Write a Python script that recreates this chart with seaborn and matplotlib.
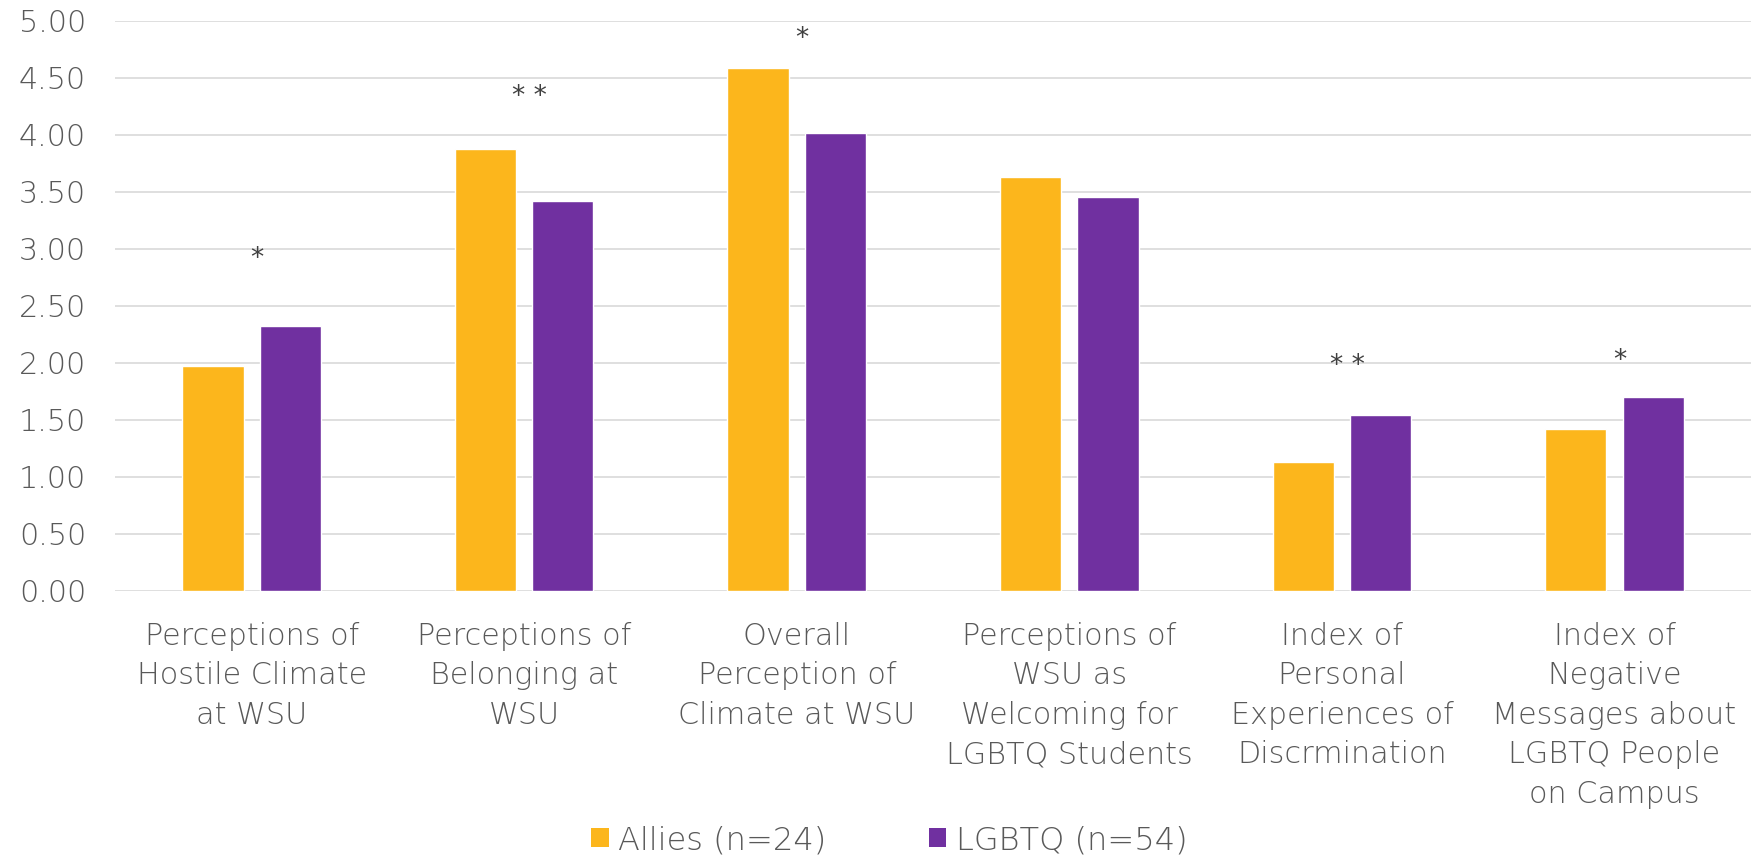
import numpy as np
import pandas as pd
import matplotlib
matplotlib.use("Agg")
import matplotlib.pyplot as plt
import matplotlib.transforms as mtransforms
import seaborn as sns
from matplotlib.patches import Patch

# data
categories = [
    "Perceptions of\nHostile Climate\nat WSU",
    "Perceptions of\nBelonging at\nWSU",
    "Overall\nPerception of\nClimate at WSU",
    "Perceptions of\nWSU as\nWelcoming for\nLGBTQ Students",
    "Index of\nPersonal\nExperiences of\nDiscrmination",
    "Index of\nNegative\nMessages about\nLGBTQ People\non Campus",
]
allies = [1.97, 3.88, 4.59, 3.63, 1.13, 1.42]
lgbtq = [2.32, 3.42, 4.02, 3.46, 1.54, 1.70]
groups = ["Allies (n=24)", "LGBTQ (n=54)"]
# significance markers and where they sit on the value axis
sig_marks = ["*", "**", "*", "", "**", "*"]
sig_y = [2.95, 4.37, 4.88, 0, 2.01, 2.05]
yticks = [0, 0.5, 1, 1.5, 2, 2.5, 3, 3.5, 4, 4.5, 5]

colors = ["#FCB61C", "#7030A0"]
text_col = "#595959"

df = pd.DataFrame({
    "category": categories * 2,
    "group": [groups[0]] * len(categories) + [groups[1]] * len(categories),
    "value": allies + lgbtq,
})

sns.set_style("white")
plt.rcParams["font.family"] = ["DejaVu Sans"]
plt.rcParams["font.weight"] = "light"

fig = plt.figure(figsize=(17.61, 8.59), dpi=100)
ax = fig.add_axes([0.0655, 0.312, 0.9287, 0.6636])

sns.barplot(data=df, x="category", y="value", hue="group", palette=colors,
            width=0.568, gap=0.21, saturation=1, ax=ax, legend=False)

ax.set_ylim(0, 5)
ax.set_xlim(-0.5, len(categories) - 0.5)
ax.set_yticks(yticks)
ax.set_yticklabels([f"{v:.2f}" for v in yticks])
ax.yaxis.grid(True, color="#D9D9D9", linewidth=1.2)
ax.set_axisbelow(True)
for s in ax.spines.values():
    s.set_visible(False)
ax.tick_params(axis="both", length=0, labelsize=21.8, colors=text_col)
ax.tick_params(axis="y", pad=21)
ax.tick_params(axis="x", pad=22)
for lab in ax.get_xticklabels():
    lab.set_linespacing(1.46)
    lab.set_verticalalignment("top")
ax.set_xlabel("")
ax.set_ylabel("")

# asterisks: put glyph centre on the value
fs = 19
off = mtransforms.offset_copy(ax.transData, fig=fig, y=-0.6 * fs + 3.5, units="points")
for i, (m, y) in enumerate(zip(sig_marks, sig_y)):
    if m:
        ax.text(i + 0.02, y, " ".join(m), ha="center", va="baseline", fontsize=fs,
                color="#404040", fontweight="normal", transform=off)

handles = [Patch(facecolor=c, edgecolor="none") for c in colors]
fig.legend(handles, groups, loc="center", bbox_to_anchor=(0.505, 0.022),
           ncol=2, frameon=False, fontsize=23, handlelength=0.55,
           handleheight=0.55, handletextpad=0.3, columnspacing=3.2,
           labelcolor=text_col)

fig.savefig("out.png", dpi=100)
